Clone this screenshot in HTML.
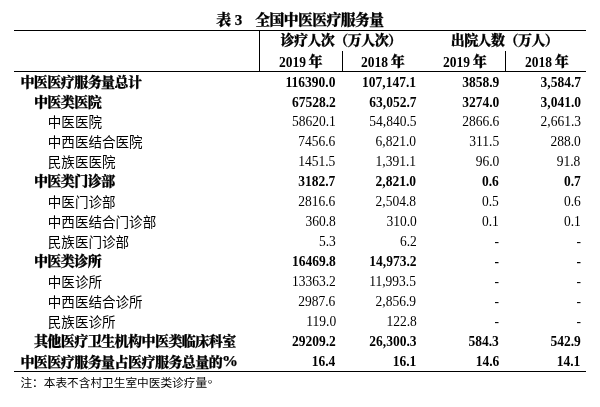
<!DOCTYPE html>
<html lang="zh-CN"><head><meta charset="utf-8"><title>表3 全国中医医疗服务量</title>
<style>
html,body{margin:0;padding:0;background:#fff;}
body{width:600px;height:407px;position:relative;overflow:hidden;color:#000;
 font-family:"Liberation Serif","Noto Sans CJK SC",serif;font-size:13.45px;}
.a{position:absolute;white-space:nowrap;}
.ln{position:absolute;background:#000;}
.r{position:absolute;left:0;width:600px;height:20px;line-height:20px;}
.r span{position:absolute;top:0;white-space:nowrap;}
.b{font-weight:bold;}
.c b{display:inline-block;font-size:15.5px;letter-spacing:0;transform:scaleX(1.03);transform-origin:left center;margin-left:-0.6px;position:relative;top:-1px}
.r.b .c{margin-top:-1px}
.b .c, .c.b{font-family:"Liberation Serif","Noto Serif CJK SC",serif;font-weight:900;font-size:14px;letter-spacing:-0.55px;-webkit-text-stroke:0.25px #000;}
.n{text-align:right;font-size:15px;transform:scaleX(.9);transform-origin:right center;margin-top:-2px;}
.d{font-size:15px;transform:scaleX(.9);transform-origin:left center;margin-top:-0.5px;}
.lt{font-family:"Liberation Serif","Noto Sans CJK SC",serif;font-weight:400;}
.r .lt{font-size:13.55px;}
</style></head><body>
<div class="ln" style="left:14px;top:30px;width:572px;height:1px"></div>
<div class="ln" style="left:14px;top:71px;width:572px;height:1px"></div>
<div class="ln" style="left:14px;top:371px;width:572px;height:1px"></div>
<div class="ln" style="left:259px;top:30px;width:1px;height:42px"></div>
<div class="ln" style="left:342px;top:51px;width:1px;height:21px"></div>
<div class="ln" style="left:505px;top:51px;width:1px;height:21px"></div>
<div class="a c b" id="title" style="left:216.2px;top:10.6px;line-height:18px;font-size:14.8px;width:170px;height:18px"><span style="position:absolute;left:0;top:0">表</span> <span style="position:absolute;left:18.6px;top:0;font-size:15px;letter-spacing:0">3</span> <span style="position:absolute;left:39.1px;top:0">全国中医医疗服务量</span></div>
<div class="a c b" id="h1" style="left:280.5px;top:32.3px;line-height:18px">诊疗人次（万人次）</div>
<div class="a c b" id="h2" style="left:450.7px;top:32.3px;line-height:18px">出院人数（万人）</div>
<div class="a" id="y1" style="left:279.0px;top:53px;width:46px;height:18px;line-height:18px"><span class="a b d" style="left:0;top:0.5px">2019</span> <span class="a c b" style="left:29.6px;top:0.2px;font-size:14px">年</span></div>
<div class="a" id="y2" style="left:361.2px;top:53px;width:46px;height:18px;line-height:18px"><span class="a b d" style="left:0;top:0.5px">2018</span> <span class="a c b" style="left:29.6px;top:0.2px;font-size:14px">年</span></div>
<div class="a" id="y3" style="left:443.1px;top:53px;width:46px;height:18px;line-height:18px"><span class="a b d" style="left:0;top:0.5px">2019</span> <span class="a c b" style="left:29.6px;top:0.2px;font-size:14px">年</span></div>
<div class="a" id="y4" style="left:525.2px;top:53px;width:46px;height:18px;line-height:18px"><span class="a b d" style="left:0;top:0.5px">2018</span> <span class="a c b" style="left:29.6px;top:0.2px;font-size:14px">年</span></div>

<div class="r b" style="top:73.80px"><span class="c" style="left:20.4px">中医医疗服务量总计</span><span class="n" style="right:264.3px">116390.0</span><span class="n" style="right:183.7px">107,147.1</span><span class="n" style="right:101.2px">3858.9</span><span class="n" style="right:19.5px">3,584.7</span></div>
<div class="r b" style="top:93.80px"><span class="c" style="left:33.9px">中医类医院</span><span class="n" style="right:264.3px">67528.2</span><span class="n" style="right:183.7px">63,052.7</span><span class="n" style="right:101.2px">3274.0</span><span class="n" style="right:19.5px">3,041.0</span></div>
<div class="r" style="top:112.80px"><span class="c lt" style="left:47.8px">中医医院</span><span class="n" style="right:264.3px">58620.1</span><span class="n" style="right:183.7px">54,840.5</span><span class="n" style="right:101.2px">2866.6</span><span class="n" style="right:19.5px">2,661.3</span></div>
<div class="r" style="top:132.80px"><span class="c lt" style="left:47.8px">中西医结合医院</span><span class="n" style="right:264.3px">7456.6</span><span class="n" style="right:183.7px">6,821.0</span><span class="n" style="right:101.2px">311.5</span><span class="n" style="right:19.5px">288.0</span></div>
<div class="r" style="top:152.80px"><span class="c lt" style="left:47.8px">民族医医院</span><span class="n" style="right:264.3px">1451.5</span><span class="n" style="right:183.7px">1,391.1</span><span class="n" style="right:101.2px">96.0</span><span class="n" style="right:19.5px">91.8</span></div>
<div class="r b" style="top:172.80px"><span class="c" style="left:33.9px">中医类门诊部</span><span class="n" style="right:264.3px">3182.7</span><span class="n" style="right:183.7px">2,821.0</span><span class="n" style="right:101.2px">0.6</span><span class="n" style="right:19.5px">0.7</span></div>
<div class="r" style="top:192.80px"><span class="c lt" style="left:47.8px">中医门诊部</span><span class="n" style="right:264.3px">2816.6</span><span class="n" style="right:183.7px">2,504.8</span><span class="n" style="right:101.2px">0.5</span><span class="n" style="right:19.5px">0.6</span></div>
<div class="r" style="top:212.80px"><span class="c lt" style="left:47.8px">中西医结合门诊部</span><span class="n" style="right:264.3px">360.8</span><span class="n" style="right:183.7px">310.0</span><span class="n" style="right:101.2px">0.1</span><span class="n" style="right:19.5px">0.1</span></div>
<div class="r" style="top:232.80px"><span class="c lt" style="left:47.8px">民族医门诊部</span><span class="n" style="right:264.3px">5.3</span><span class="n" style="right:183.7px">6.2</span><span class="n" style="right:101.2px">-</span><span class="n" style="right:19.5px">-</span></div>
<div class="r b" style="top:252.80px"><span class="c" style="left:33.9px">中医类诊所</span><span class="n" style="right:264.3px">16469.8</span><span class="n" style="right:183.7px">14,973.2</span><span class="n" style="right:101.2px">-</span><span class="n" style="right:19.5px">-</span></div>
<div class="r" style="top:272.80px"><span class="c lt" style="left:47.8px">中医诊所</span><span class="n" style="right:264.3px">13363.2</span><span class="n" style="right:183.7px">11,993.5</span><span class="n" style="right:101.2px">-</span><span class="n" style="right:19.5px">-</span></div>
<div class="r" style="top:292.80px"><span class="c lt" style="left:47.8px">中西医结合诊所</span><span class="n" style="right:264.3px">2987.6</span><span class="n" style="right:183.7px">2,856.9</span><span class="n" style="right:101.2px">-</span><span class="n" style="right:19.5px">-</span></div>
<div class="r" style="top:312.80px"><span class="c lt" style="left:47.8px">民族医诊所</span><span class="n" style="right:264.3px">119.0</span><span class="n" style="right:183.7px">122.8</span><span class="n" style="right:101.2px">-</span><span class="n" style="right:19.5px">-</span></div>
<div class="r b" style="top:332.80px"><span class="c" style="left:33.9px">其他医疗卫生机构中医类临床科室</span><span class="n" style="right:264.3px">29209.2</span><span class="n" style="right:183.7px">26,300.3</span><span class="n" style="right:101.2px">584.3</span><span class="n" style="right:19.5px">542.9</span></div>
<div class="r b" style="top:352.80px"><span class="c" style="left:20.4px">中医医疗服务量占医疗服务总量的<b>%</b></span><span class="n" style="right:264.3px">16.4</span><span class="n" style="right:183.7px">16.1</span><span class="n" style="right:101.2px">14.6</span><span class="n" style="right:19.5px">14.1</span></div>
<div class="a lt" id="note" style="left:20.4px;top:374.5px;line-height:18px;font-size:11.68px">注：本表不含村卫生室中医类诊疗量<span style="position:relative;top:-3.5px;left:0.5px">。</span></div>
</body></html>
